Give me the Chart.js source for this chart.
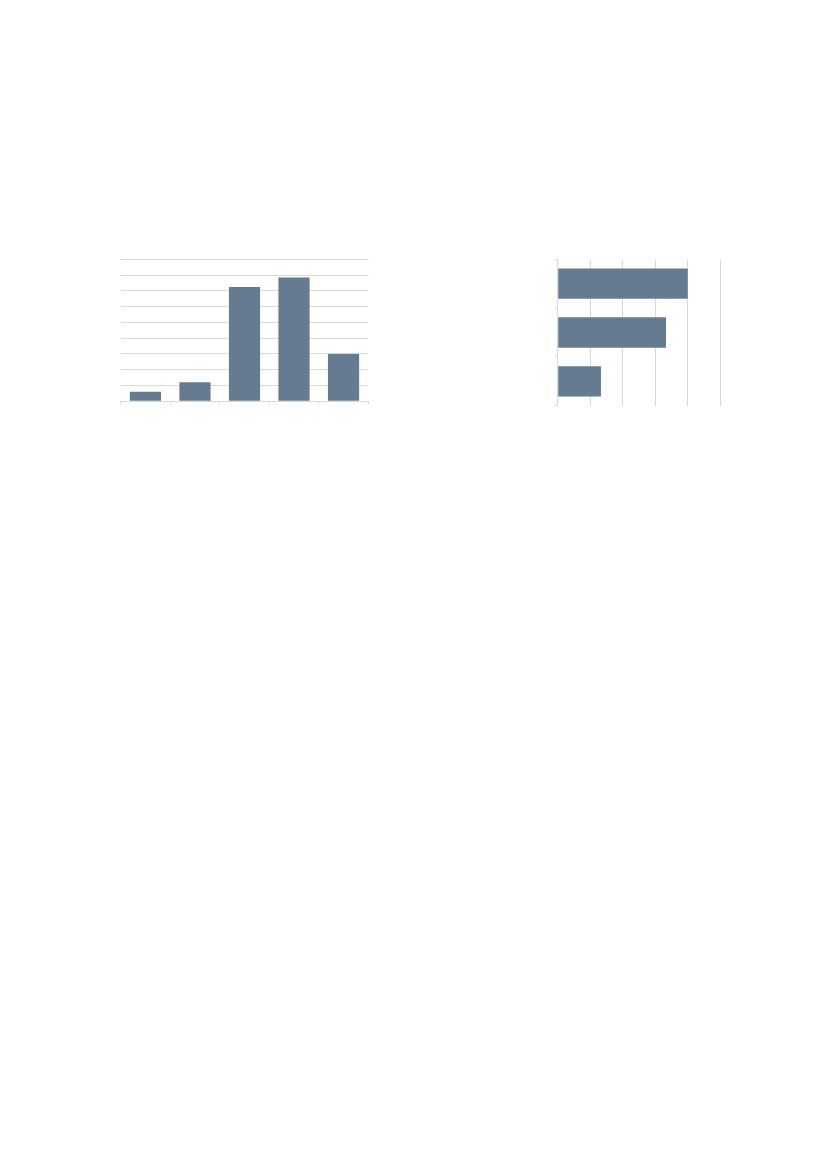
<!DOCTYPE html>
<html>
<head>
<meta charset="utf-8">
<script src="https://cdn.jsdelivr.net/npm/chart.js@4/dist/chart.umd.min.js"></script>
<style>
  body { margin: 0; background: #fff; }
  #page { position: relative; width: 827px; height: 1169px; background: #fff; }
  canvas { position: absolute; }
  #left { left: 100px; top: 250px; }
  #right { left: 530px; top: 250px; }
</style>
</head>
<body>
<div id="page">
  <canvas id="left" width="280" height="170"></canvas>
  <canvas id="right" width="210" height="170"></canvas>
</div>
<script>
// left chart: vertical bars
const leftCategories = ['1', '2', '3', '4', '5'];
const leftValues = [0.6, 1.2, 7.25, 7.85, 3.0];
const leftTicks = [0, 1, 2, 3, 4, 5, 6, 7, 8, 9];

// right chart: horizontal bars
const rightCategories = ['1', '2', '3'];
const rightValues = [4.0, 3.33, 1.33];
const rightTicks = [0, 1, 2, 3, 4, 5];

const barColor = '#657b90';
const gridColor = '#d9d9d9';

new Chart(document.getElementById('left').getContext('2d'), {
    type: 'bar',
    data: {
        labels: leftCategories,
        datasets: [{
            data: leftValues,
            backgroundColor: barColor,
            borderWidth: 0,
            barPercentage: 0.63,
            categoryPercentage: 1
        }]
    },
    options: {
        responsive: false,
        animation: false,
        devicePixelRatio: 1,
        layout: { padding: { left: 20.7, right: 11.7, top: 9.3, bottom: 15.7 } },
        plugins: { legend: { display: false }, tooltip: { enabled: false } },
        scales: {
            x: {
                offset: true,
                ticks: { display: false },
                grid: { offset: true, drawOnChartArea: false, drawTicks: true, tickLength: 3, color: gridColor },
                border: { display: true, color: gridColor },
                afterFit: (s) => { s.height = 3; }
            },
            y: {
                min: leftTicks[0],
                max: leftTicks[leftTicks.length - 1],
                ticks: { display: false, stepSize: 1 },
                grid: { color: gridColor, drawTicks: false },
                border: { display: false },
                afterFit: (s) => { s.width = 0; }
            }
        }
    }
});

new Chart(document.getElementById('right').getContext('2d'), {
    type: 'bar',
    data: {
        labels: rightCategories,
        datasets: [{
            data: rightValues,
            backgroundColor: barColor,
            borderWidth: 0,
            barPercentage: 0.62,
            categoryPercentage: 1
        }]
    },
    options: {
        indexAxis: 'y',
        responsive: false,
        animation: false,
        devicePixelRatio: 1,
        layout: { padding: { left: 24.7, right: 19.7, top: 9.3, bottom: 14.3 } },
        plugins: { legend: { display: false }, tooltip: { enabled: false } },
        scales: {
            x: {
                min: rightTicks[0],
                max: rightTicks[rightTicks.length - 1],
                ticks: { display: false, stepSize: 1 },
                grid: { color: gridColor, drawTicks: false },
                border: { display: false },
                afterFit: (s) => { s.height = 0; }
            },
            y: {
                offset: true,
                ticks: { display: false },
                grid: { offset: true, drawOnChartArea: false, drawTicks: true, tickLength: 3, color: gridColor },
                border: { display: true, color: gridColor },
                afterFit: (s) => { s.width = 3; }
            }
        }
    }
});
</script>
</body>
</html>
